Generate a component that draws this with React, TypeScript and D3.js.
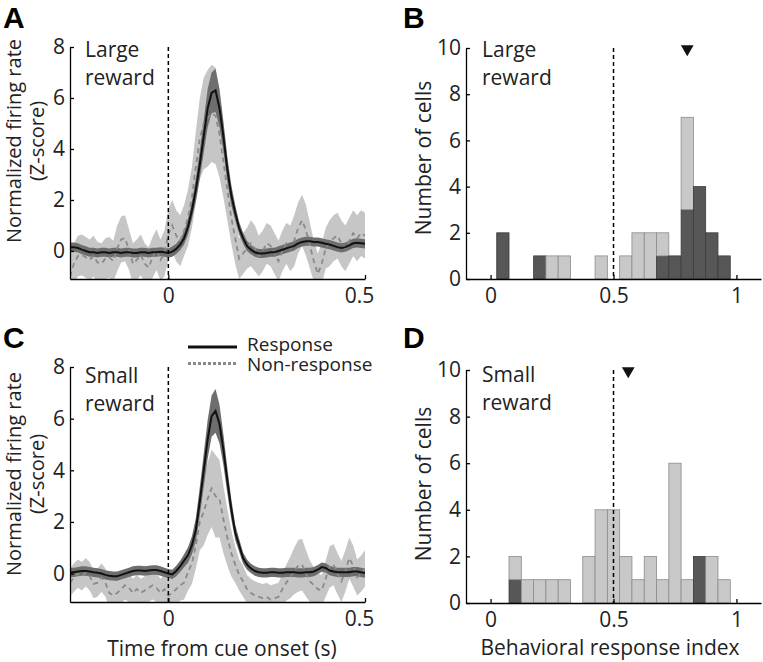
import { useEffect, useRef } from "react";
import * as d3 from "d3";

// time bins (s), 10 ms steps from -0.25 to 0.5
const TIME = d3.range(-25, 51).map((i) => i / 100);

// Panel A: large reward
const RESP_LARGE = [
  0.15, 0.15, 0.12, 0.05, 0.0, -0.05, -0.05, -0.08, -0.05, -0.05,
  -0.08, -0.05, -0.05, -0.08, -0.05, -0.05, -0.08, -0.08, -0.05, -0.05,
  -0.08, -0.05, -0.05, -0.03, -0.05, -0.08, -0.03, 0.08, 0.25, 0.5,
  0.95, 1.6, 2.4, 3.4, 4.5, 5.6, 6.2, 6.3, 5.6, 4.5,
  3.2, 2.2, 1.5, 0.9, 0.5, 0.2, 0.05, -0.05, -0.1, -0.1,
  -0.08, -0.05, -0.05, 0.0, 0.05, 0.1, 0.15, 0.2, 0.3, 0.35,
  0.38, 0.38, 0.35, 0.35, 0.32, 0.28, 0.25, 0.2, 0.15, 0.12,
  0.15, 0.22, 0.3, 0.32, 0.3, 0.28,
];
const RESP_LARGE_SEM = [
  0.18, 0.18, 0.18, 0.18, 0.18, 0.18, 0.18, 0.18, 0.18, 0.18,
  0.18, 0.18, 0.18, 0.18, 0.18, 0.18, 0.18, 0.18, 0.18, 0.18,
  0.18, 0.18, 0.18, 0.18, 0.18, 0.18, 0.2, 0.2, 0.22, 0.25,
  0.3, 0.35, 0.45, 0.55, 0.65, 0.75, 0.8, 0.85, 0.75, 0.6,
  0.5, 0.4, 0.3, 0.25, 0.22, 0.2, 0.18, 0.18, 0.18, 0.18,
  0.18, 0.18, 0.18, 0.18, 0.18, 0.18, 0.18, 0.18, 0.18, 0.18,
  0.18, 0.18, 0.18, 0.18, 0.18, 0.18, 0.18, 0.18, 0.18, 0.18,
  0.18, 0.18, 0.18, 0.18, 0.18, 0.18,
];
const NON_LARGE = [
  -1.0, -0.5, -0.2, -0.15, -0.25, -0.35, -0.2, -0.45, -0.5, -0.3,
  -0.25, -0.4, 0.1, 0.45, 0.5, 0.05, -0.5, -0.35, -0.15, -0.5,
  -0.65, -0.25, 0.05, -0.35, -0.1, 0.65, 1.0, 0.6, 0.4, 0.8,
  1.3, 2.1, 3.3, 4.4, 5.0, 5.2, 5.4, 5.3, 4.6, 3.5,
  2.4, 1.3, 0.5, -0.3, -0.1, 0.1, 0.3, 0.1, -0.2, 0.0,
  0.3, 0.2, -0.1, -0.4, 0.0, 0.3, 0.1, 0.4, 0.9, 1.2,
  0.8, 0.2, -0.4, -0.9, -0.5, 0.1, 0.3, 0.5, 0.6, 0.3,
  0.1, 0.4, 0.7, 0.5, 0.7, 0.6,
];
const NON_LARGE_SEM = [
  0.8, 0.8, 0.8, 0.8, 0.8, 0.8, 0.8, 0.8, 0.8, 0.8,
  0.8, 0.8, 0.9, 0.9, 0.9, 0.8, 0.8, 0.8, 0.8, 0.8,
  0.8, 0.8, 0.8, 0.8, 0.9, 1.0, 1.0, 1.0, 1.0, 1.0,
  1.1, 1.2, 1.4, 1.6, 1.8, 1.9, 1.9, 1.9, 1.7, 1.4,
  1.2, 1.0, 1.0, 0.8, 0.8, 0.8, 0.9, 0.9, 0.8, 0.8,
  0.8, 0.8, 0.8, 0.8, 0.8, 0.8, 0.9, 1.0, 1.0, 1.0,
  1.0, 0.9, 0.8, 0.8, 0.8, 0.8, 0.9, 0.9, 0.9, 0.9,
  0.9, 0.9, 0.9, 0.9, 0.9, 0.9,
];

// Panel C: small reward
const RESP_SMALL = [
  0.05, 0.05, 0.08, 0.1, 0.1, 0.08, 0.05, 0.03, 0.0, -0.05,
  -0.08, -0.1, -0.1, -0.05, 0.0, 0.05, 0.1, 0.12, 0.12, 0.1,
  0.12, 0.14, 0.14, 0.1, 0.05, 0.0, -0.03, 0.1, 0.28, 0.5,
  0.72, 1.1, 1.7, 2.8, 4.0, 5.2, 6.1, 6.3, 5.8, 4.8,
  3.6, 2.5, 1.6, 1.1, 0.6, 0.35, 0.2, 0.1, 0.05, 0.03,
  0.03, 0.05, 0.05, 0.03, 0.03, 0.05, 0.05, 0.05, 0.03, 0.03,
  0.05, 0.05, 0.08, 0.15, 0.25, 0.22, 0.12, 0.08, 0.05, 0.05,
  0.05, 0.05, 0.08, 0.08, 0.05, 0.02,
];
const RESP_SMALL_SEM = [
  0.18, 0.18, 0.18, 0.18, 0.18, 0.18, 0.18, 0.18, 0.18, 0.18,
  0.18, 0.18, 0.18, 0.18, 0.18, 0.18, 0.18, 0.18, 0.18, 0.18,
  0.18, 0.18, 0.18, 0.18, 0.18, 0.18, 0.18, 0.2, 0.22, 0.25,
  0.3, 0.35, 0.45, 0.55, 0.65, 0.75, 0.8, 0.85, 0.75, 0.6,
  0.5, 0.4, 0.3, 0.25, 0.22, 0.2, 0.18, 0.18, 0.18, 0.18,
  0.18, 0.18, 0.18, 0.18, 0.18, 0.18, 0.18, 0.18, 0.18, 0.18,
  0.18, 0.18, 0.18, 0.18, 0.18, 0.18, 0.18, 0.18, 0.18, 0.18,
  0.18, 0.18, 0.18, 0.18, 0.18, 0.18,
];
const NON_SMALL = [
  -0.35, -0.15, 0.0, -0.1, 0.05, -0.1, -0.4, -0.35, -0.15, -0.35,
  -0.75, -0.85, -0.75, -0.6, -0.45, -0.55, -0.75, -0.6, -0.75, -0.65,
  -0.55, -0.45, -0.55, -0.75, -0.6, -0.85, -0.75, -0.6, -0.45, -0.35,
  0.05, 0.4, 1.1, 2.0, 2.4, 2.9, 3.3, 3.0, 2.9, 2.1,
  1.4, 0.8, 0.35, -0.05, -0.3, -0.6, -0.75, -0.85, -0.9, -0.95,
  -0.9, -1.0, -0.95, -0.9, -0.6, -0.35, -0.15, 0.1, 0.3, 0.35,
  0.0, -0.3, -0.45, -0.6, -0.65, -0.2, 0.25, 0.35, 0.0, -0.3,
  0.1, 0.6, 0.3, -0.15, 0.0, 0.2,
];
const NON_SMALL_SEM = [
  0.55, 0.55, 0.55, 0.55, 0.55, 0.55, 0.55, 0.55, 0.55, 0.55,
  0.55, 0.55, 0.55, 0.55, 0.55, 0.55, 0.55, 0.55, 0.55, 0.55,
  0.55, 0.55, 0.55, 0.55, 0.55, 0.6, 0.6, 0.6, 0.6, 0.65,
  0.7, 0.8, 0.9, 1.1, 1.3, 1.4, 1.5, 1.6, 1.5, 1.3,
  1.1, 0.9, 0.7, 0.6, 0.6, 0.55, 0.55, 0.55, 0.55, 0.55,
  0.55, 0.55, 0.55, 0.55, 0.6, 0.7, 0.8, 0.9, 1.0, 1.0,
  0.9, 0.8, 0.7, 0.6, 0.6, 0.7, 0.8, 0.8, 0.8, 0.8,
  0.8, 0.8, 0.8, 0.7, 0.7, 0.7,
];

// Histograms: bin centres of the behavioral response index
const BIN_CENTERS = d3.range(0, 21).map((i) => i / 20);
const LARGE_RESP_COUNTS = [0, 2, 0, 0, 1, 0, 0, 0, 0, 0, 0, 0, 0, 0, 1, 1, 3, 4, 2, 1, 0];
const LARGE_NON_COUNTS = [0, 0, 0, 0, 0, 1, 1, 0, 0, 1, 0, 1, 2, 2, 1, 0, 4, 0, 0, 0, 0];
const SMALL_RESP_COUNTS = [0, 0, 1, 0, 0, 0, 0, 0, 0, 0, 0, 0, 0, 0, 0, 0, 0, 2, 0, 0, 0];
const SMALL_NON_COUNTS = [0, 0, 1, 1, 1, 1, 1, 0, 2, 4, 4, 2, 1, 2, 1, 6, 1, 0, 2, 1, 0];
const LARGE_MEDIAN = 0.8;
const SMALL_MEDIAN = 0.56;

const TRACE_Y_TICKS = [0, 2, 4, 6, 8];
const TRACE_X_TICKS = [0, 0.5];
const HIST_Y_TICKS = [0, 2, 4, 6, 8, 10];
const HIST_X_TICKS = [0, 0.5, 1];

const FONT = "'Open Sans', sans-serif";
const FS = 21;
const DARK_BAND = "#6e6e6e";
const LIGHT_BAND = "#c6c6c6";
const DASH_GREY = "#8a8a8a";

type Sel = d3.Selection<SVGSVGElement, unknown, null, undefined>;

interface TraceOpts {
  id: string;
  left: number;
  right: number;
  top: number;
  bottom: number;
  resp: number[];
  respSem: number[];
  non: number[];
  nonSem: number[];
  label: string[];
  labelY: number;
}

function styleAxis(a: d3.Selection<SVGGElement, unknown, null, undefined>) {
  a.selectAll("path,line").attr("stroke", "#000").attr("stroke-width", 1.3);
  a.selectAll("text").attr("font-size", FS).attr("font-family", FONT).attr("fill", "#222");
}

function drawTrace(svg: Sel, o: TraceOpts) {
  const x = d3.scaleLinear().domain([-0.25, 0.5]).range([o.left, o.right]);
  const y = d3.scaleLinear().domain([-1.1, 8]).range([o.bottom, o.top]);

  svg.append("clipPath").attr("id", o.id)
    .append("rect")
    .attr("x", o.left).attr("y", o.top - 40)
    .attr("width", o.right - o.left).attr("height", o.bottom - o.top + 40);

  const g = svg.append("g").attr("clip-path", `url(#${o.id})`);

  const band = (m: number[], s: number[]) =>
    d3.area<number>()
      .x((_, i) => x(TIME[i]))
      .y0((_, i) => y(m[i] - s[i]))
      .y1((_, i) => y(m[i] + s[i]));
  const line = (m: number[]) =>
    d3.line<number>().x((_, i) => x(TIME[i])).y((_, i) => y(m[i]));

  g.append("path").datum(o.non).attr("d", band(o.non, o.nonSem)).attr("fill", LIGHT_BAND);
  g.append("path").datum(o.resp).attr("d", band(o.resp, o.respSem)).attr("fill", DARK_BAND);
  g.append("path").datum(o.non).attr("d", line(o.non))
    .attr("fill", "none").attr("stroke", DASH_GREY).attr("stroke-width", 1.8)
    .attr("stroke-dasharray", "5,4");
  g.append("path").datum(o.resp).attr("d", line(o.resp))
    .attr("fill", "none").attr("stroke", "#111").attr("stroke-width", 2);

  // cue onset
  svg.append("line")
    .attr("x1", x(0)).attr("x2", x(0))
    .attr("y1", y(8)).attr("y2", o.bottom)
    .attr("stroke", "#000").attr("stroke-width", 1.5).attr("stroke-dasharray", "4,3");

  const yAxis = svg.append("g").attr("transform", `translate(${o.left},0)`)
    .call(d3.axisLeft(y).tickValues(TRACE_Y_TICKS).tickSize(-4).tickSizeOuter(0).tickPadding(5).tickFormat(d3.format("d")));
  const xAxis = svg.append("g").attr("transform", `translate(0,${o.bottom})`)
    .call(d3.axisBottom(x).tickValues(TRACE_X_TICKS).tickSize(-4).tickSizeOuter(0).tickPadding(9).tickFormat((d) => String(d)));
  styleAxis(yAxis);
  styleAxis(xAxis);
  // last label sits a little inside the figure edge
  xAxis.selectAll("text").filter((d) => d === 0.5).attr("dx", -6);

  o.label.forEach((t, i) => {
    svg.append("text")
      .attr("x", o.left + 15).attr("y", o.labelY + i * 28)
      .attr("font-size", FS).attr("font-family", FONT).attr("fill", "#222")
      .text(t);
  });
}

interface HistOpts {
  left: number;
  right: number;
  top: number;
  bottom: number;
  resp: number[];
  non: number[];
  median: number;
  label: string[];
  labelY: number;
}

function drawHist(svg: Sel, o: HistOpts) {
  const x = d3.scaleLinear().domain([-0.1, 1.1]).range([o.left, o.right]);
  const y = d3.scaleLinear().domain([0, 10]).range([o.bottom, o.top]);
  const hw = 0.025;

  BIN_CENTERS.forEach((c, i) => {
    const r = o.resp[i];
    const n = o.non[i];
    if (r > 0) {
      svg.append("rect")
        .attr("x", x(c - hw)).attr("width", x(c + hw) - x(c - hw))
        .attr("y", y(r)).attr("height", y(0) - y(r))
        .attr("fill", "#575757").attr("stroke", "#3c3c3c").attr("stroke-width", 0.8);
    }
    if (n > 0) {
      svg.append("rect")
        .attr("x", x(c - hw)).attr("width", x(c + hw) - x(c - hw))
        .attr("y", y(r + n)).attr("height", y(r) - y(r + n))
        .attr("fill", "#c8c8c8").attr("stroke", "#8c8c8c").attr("stroke-width", 0.8);
    }
  });

  svg.append("line")
    .attr("x1", x(0.5)).attr("x2", x(0.5))
    .attr("y1", y(10)).attr("y2", y(0))
    .attr("stroke", "#000").attr("stroke-width", 1.5).attr("stroke-dasharray", "4,3");

  svg.append("path")
    .attr("d", d3.symbol(d3.symbolTriangle, 70)())
    .attr("transform", `translate(${x(o.median)},${y(10) + 1}) rotate(180)`)
    .attr("fill", "#111");

  const yAxis = svg.append("g").attr("transform", `translate(${o.left},0)`)
    .call(d3.axisLeft(y).tickValues(HIST_Y_TICKS).tickSize(-4).tickSizeOuter(0).tickPadding(5));
  const xAxis = svg.append("g").attr("transform", `translate(0,${o.bottom})`)
    .call(d3.axisBottom(x).tickValues(HIST_X_TICKS).tickSize(-4).tickSizeOuter(0).tickPadding(9).tickFormat((d) => String(d)));
  styleAxis(yAxis);
  styleAxis(xAxis);

  o.label.forEach((t, i) => {
    svg.append("text")
      .attr("x", o.left + 16).attr("y", o.labelY + i * 28)
      .attr("font-size", FS).attr("font-family", FONT).attr("fill", "#222")
      .text(t);
  });
}

function rotLabel(svg: Sel, lines: string[], xs: number[], cy: number, size: number) {
  lines.forEach((t, i) => {
    svg.append("text")
      .attr("transform", `translate(${xs[i]},${cy}) rotate(-90)`)
      .attr("text-anchor", "middle")
      .attr("font-size", size).attr("font-family", FONT).attr("fill", "#222")
      .text(t);
  });
}

function panelLetter(svg: Sel, t: string, x: number, y: number) {
  svg.append("text")
    .attr("x", x).attr("y", y)
    .attr("font-size", 30).attr("font-weight", "bold")
    .attr("font-family", "'Liberation Sans', Arial, sans-serif").attr("fill", "#000")
    .text(t);
}

export default function App() {
  const ref = useRef<SVGSVGElement>(null);

  useEffect(() => {
    const svg = d3.select(ref.current) as unknown as Sel;
    svg.selectAll("*").remove();
    svg.append("rect").attr("width", 763).attr("height", 662).attr("fill", "#fff");

    drawTrace(svg, {
      id: "clipA", left: 70, right: 365, top: 47, bottom: 279,
      resp: RESP_LARGE, respSem: RESP_LARGE_SEM, non: NON_LARGE, nonSem: NON_LARGE_SEM,
      label: ["Large", "reward"], labelY: 57,
    });
    drawTrace(svg, {
      id: "clipC", left: 70, right: 365, top: 367, bottom: 602,
      resp: RESP_SMALL, respSem: RESP_SMALL_SEM, non: NON_SMALL, nonSem: NON_SMALL_SEM,
      label: ["Small", "reward"], labelY: 383,
    });
    drawHist(svg, {
      left: 466, right: 761, top: 48, bottom: 279,
      resp: LARGE_RESP_COUNTS, non: LARGE_NON_COUNTS, median: LARGE_MEDIAN,
      label: ["Large", "reward"], labelY: 57,
    });
    drawHist(svg, {
      left: 466, right: 761, top: 370, bottom: 603,
      resp: SMALL_RESP_COUNTS, non: SMALL_NON_COUNTS, median: SMALL_MEDIAN,
      label: ["Small", "reward"], labelY: 382,
    });

    rotLabel(svg, ["Normalized firing rate", "(Z-score)"], [21, 44], 141, 20);
    rotLabel(svg, ["Normalized firing rate", "(Z-score)"], [21, 44], 474, 20);
    rotLabel(svg, ["Number of cells"], [431], 158, FS);
    rotLabel(svg, ["Number of cells"], [431], 484, FS);

    svg.append("text")
      .attr("x", 222).attr("y", 656).attr("text-anchor", "middle")
      .attr("font-size", FS).attr("font-family", FONT).attr("fill", "#222")
      .text("Time from cue onset (s)");
    svg.append("text")
      .attr("x", 610).attr("y", 655).attr("text-anchor", "middle")
      .attr("font-size", FS).attr("font-family", FONT).attr("fill", "#222")
      .text("Behavioral response index");

    // legend
    const lg = svg.append("g");
    lg.append("line").attr("x1", 188).attr("x2", 237).attr("y1", 347).attr("y2", 347)
      .attr("stroke", "#111").attr("stroke-width", 3);
    lg.append("line").attr("x1", 188).attr("x2", 237).attr("y1", 363.5).attr("y2", 363.5)
      .attr("stroke", DASH_GREY).attr("stroke-width", 3).attr("stroke-dasharray", "3,2");
    lg.append("text").attr("x", 247).attr("y", 350.5)
      .attr("font-size", 19).attr("font-family", FONT).attr("fill", "#222").text("Response");
    lg.append("text").attr("x", 247).attr("y", 371)
      .attr("font-size", 19).attr("font-family", FONT).attr("fill", "#222").text("Non-response");

    panelLetter(svg, "A", 3, 27.5);
    panelLetter(svg, "B", 403, 27.5);
    panelLetter(svg, "C", 3, 348);
    panelLetter(svg, "D", 403, 348);
  }, []);

  return (
    <svg
      ref={ref}
      width={763}
      height={662}
      style={{ position: "absolute", left: 0, top: 0, display: "block" }}
    />
  );
}
